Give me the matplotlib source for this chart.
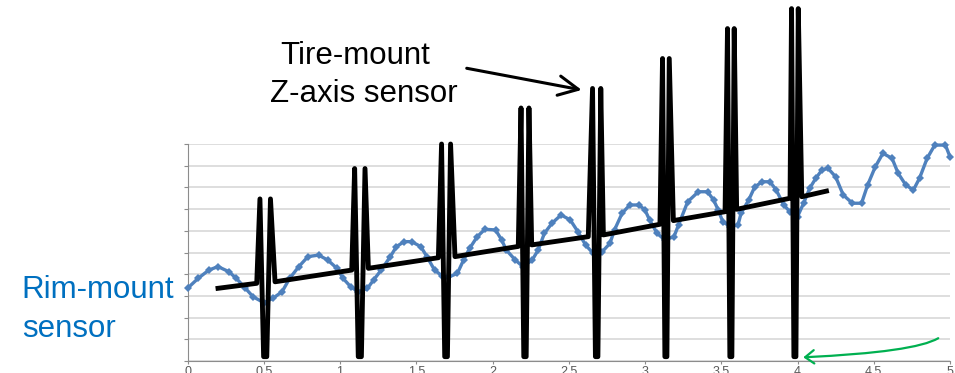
import matplotlib
matplotlib.use("Agg")
import matplotlib.pyplot as plt
from matplotlib.patches import FancyArrowPatch
from matplotlib.path import Path

# Rim-mount sensor trace (time, signal)
rim_t = [0.00, 0.07, 0.14, 0.20, 0.27, 0.32, 0.38, 0.43, 0.50, 0.56, 0.62, 0.67, 0.73,
         0.79, 0.86, 0.92, 0.98, 1.02, 1.07, 1.12, 1.18, 1.22, 1.27, 1.33, 1.37, 1.42,
         1.47, 1.53, 1.57, 1.62, 1.67, 1.71, 1.77, 1.81, 1.85, 1.90, 1.95, 2.02, 2.06,
         2.09, 2.15, 2.20, 2.26, 2.30, 2.34, 2.39, 2.45, 2.51, 2.56, 2.61, 2.66, 2.72,
         2.77, 2.80, 2.85, 2.90, 2.96, 3.00, 3.03, 3.08, 3.13, 3.19, 3.22, 3.28, 3.35,
         3.41, 3.45, 3.48, 3.51, 3.56, 3.61, 3.63, 3.68, 3.72, 3.77, 3.82, 3.86, 3.91,
         3.95, 4.00, 4.04, 4.08, 4.12, 4.16, 4.20, 4.25, 4.30, 4.36, 4.42, 4.46, 4.51,
         4.56, 4.62, 4.66, 4.71, 4.76, 4.80, 4.85, 4.90, 4.97, 5.00]
rim_v = [3.35, 3.81, 4.19, 4.35, 4.12, 3.81, 3.35, 2.96, 2.69, 2.89, 3.19, 3.81, 4.35,
         4.81, 4.88, 4.65, 4.27, 3.81, 3.42, 3.19, 3.35, 3.73, 4.19, 4.81, 5.27, 5.50,
         5.50, 5.27, 4.81, 4.19, 3.92, 3.86, 4.04, 4.65, 5.19, 5.73, 6.07, 6.04, 5.58,
         5.12, 4.65, 4.35, 4.65, 5.12, 5.88, 6.35, 6.73, 6.50, 5.96, 5.35, 4.96, 5.04,
         5.42, 6.04, 6.81, 7.19, 7.19, 6.96, 6.50, 5.88, 5.58, 5.73, 6.27, 7.34, 7.80,
         7.80, 7.42, 6.96, 6.42, 6.19, 6.27, 6.81, 7.42, 8.03, 8.26, 8.26, 7.88, 7.19,
         6.88, 6.65, 7.27, 7.96, 8.42, 8.80, 8.88, 8.49, 7.65, 7.27, 7.27, 8.11, 8.95,
         9.57, 9.34, 8.65, 8.11, 7.88, 8.42, 9.34, 9.95, 9.95, 9.41]

# Tire-mount Z-axis sensor: drifting baseline with one double spike per revolution
tire_start = (0.20, 3.35)
tire_end = (4.19, 7.83)
pre_spike_t = [0.454, 1.077, 1.645, 2.169, 2.628, 3.098, 3.525, 3.951]
pre_spike_v = [3.58, 4.19, 4.76, 5.28, 5.73, 6.30, 6.88, 7.50]
post_spike_t = [0.574, 1.186, 1.754, 2.257, 2.727, 3.186, 3.601, 4.028]
post_spike_v = [3.65, 4.27, 4.81, 5.35, 5.81, 6.47, 6.99, 7.57]
prong1_t = [0.475, 1.096, 1.666, 2.187, 2.656, 3.115, 3.541, 3.961]
prong2_t = [0.544, 1.164, 1.725, 2.239, 2.710, 3.159, 3.585, 4.005]
spike_peak = [7.47, 8.87, 10.0, 11.66, 12.56, 13.94, 15.32, 16.24]
spike_floor = 0.2

x_ticks = [0, 0.5, 1, 1.5, 2, 2.5, 3, 3.5, 4, 4.5, 5]
x_tick_labels = ["0", "0.5", "1", "1.5", "2", "2.5", "3", "3.5", "4", "4.5", "5"]

W, H = 955, 373
fig = plt.figure(figsize=(W / 100, H / 100), dpi=100)
fig.patch.set_facecolor("white")
ax = fig.add_axes([187.5 / W, 12 / H, (950 - 187.5) / W, 217 / H])
ax.set_xlim(0, 5)
ax.set_ylim(0, 10)

# grid and axes styling
ax.set_yticks(range(0, 11))
ax.set_yticklabels([])
ax.set_xticks(x_ticks)
ax.set_xticklabels(x_tick_labels, fontsize=9, color="#595959", family="Liberation Sans")
ax.yaxis.grid(True, color="#d4d4d4", linewidth=1.1)
ax.set_axisbelow(True)
for side in ("top", "right"):
    ax.spines[side].set_visible(False)
for side in ("left", "bottom"):
    ax.spines[side].set_color("#8c8c8c")
    ax.spines[side].set_linewidth(0.8)
ax.tick_params(axis="y", length=3, width=0.8, color="#8c8c8c", direction="out")
ax.tick_params(axis="x", length=2.5, width=0.8, color="#8c8c8c", direction="out", pad=1)

# rim-mount trace
ax.plot(rim_t, rim_v, color="#4f81bd", lw=2.4, marker="D", markersize=4.0,
        markeredgewidth=0, zorder=3, clip_on=False)

# tire-mount trace assembled from baseline segments and spikes
tt = [tire_start[0]]
tv = [tire_start[1]]
for i in range(len(spike_peak)):
    p1, p2 = prong1_t[i], prong2_t[i]
    b1 = p1 + 0.35 * (p2 - p1)
    b2 = p1 + 0.65 * (p2 - p1)
    tt += [pre_spike_t[i], p1, b1, b2, p2, post_spike_t[i]]
    tv += [pre_spike_v[i], spike_peak[i], spike_floor, spike_floor, spike_peak[i], post_spike_v[i]]
tt.append(tire_end[0])
tv.append(tire_end[1])
ax.plot(tt, tv, color="black", lw=3.5, solid_joinstyle="round", zorder=4, clip_on=False)

# labels
font = "Liberation Sans"
fig.text(280 / W, 1 - 64 / H, "Tire-mount", fontsize=22.5, family=font,
         color="black", ha="left", va="baseline")
fig.text(270 / W, 1 - 102 / H, "Z-axis sensor", fontsize=22.5, family=font,
         color="black", ha="left", va="baseline")
fig.text(21.7 / W, 1 - 298.3 / H, "Rim-mount", fontsize=22.5, family=font,
         color="#0070c0", ha="left", va="baseline")
fig.text(21.7 / W, 1 - 336.7 / H, "sensor", fontsize=22.5, family=font,
         color="#0070c0", ha="left", va="baseline")

# pointer to the tire-mount trace
ax.annotate("", xy=(2.585, 12.49), xytext=(1.831, 13.49),
            arrowprops=dict(arrowstyle="->,head_length=0.71,head_width=0.35",
                            lw=2.2, color="black", shrinkA=0, shrinkB=0,
                            mutation_scale=20),
            annotation_clip=False)

# curved green pointer to the bottom of the spike at t=4
green_path = Path([(4.923, 1.05), (4.77, 0.41), (4.038, 0.17)],
                  [Path.MOVETO, Path.CURVE3, Path.CURVE3])
arr = FancyArrowPatch(path=green_path, arrowstyle="->,head_length=0.32,head_width=0.24",
                      mutation_scale=20, lw=1.6, color="#00b050", clip_on=False, zorder=5)
ax.add_patch(arr)

fig.savefig("out.png", dpi=100, facecolor="white")
